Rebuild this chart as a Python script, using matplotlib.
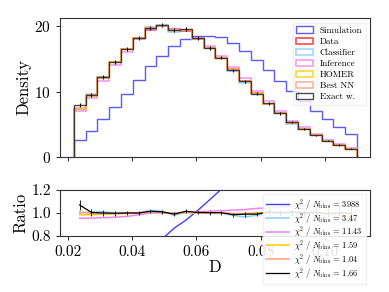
import numpy as np
import matplotlib
matplotlib.use("Agg")
import matplotlib.pyplot as plt

plt.rcParams['font.family'] = 'serif'
plt.rcParams['font.serif'] = ['cmr10']
plt.rcParams['mathtext.fontset'] = 'cm'
plt.rcParams['axes.unicode_minus'] = False
plt.rcParams['axes.formatter.use_mathtext'] = True

# -------------------------------------------------------------------------
# Histogram data (24 bins in D)
# -------------------------------------------------------------------------
d_lo, d_hi, n_bins = 0.0218, 0.1100, 24

data = [7.4, 9.5, 12.2, 14.6, 16.6, 18.3, 19.5, 20.0, 19.6, 19.3, 18.1, 16.7,
        15.2, 13.5, 11.7, 9.8, 8.15, 6.7, 5.25, 4.3, 3.3, 2.5, 1.85, 1.3]
simulation = [2.6, 4.05, 5.8, 7.7, 9.7, 11.85, 13.9, 15.5, 17.0, 18.1, 18.5, 18.6,
              18.35, 17.5, 16.3, 14.8, 13.3, 11.7, 10.15, 8.6, 7.1, 5.8, 4.6, 3.5]

# reweighted / data ratios
ratio_classifier = [1.0, 1.01, 1.01, 1.0, 1.0, 1.0, 1.025, 1.015, 0.98, 1.005, 1.0, 1.0,
                    1.0, 0.98, 0.965, 0.98, 1.005, 1.01, 0.975, 1.0, 1.01, 0.995, 0.985, 0.97]
ratio_inference = [0.955, 0.955, 0.96, 0.963, 0.97, 0.985, 1.0, 1.0, 1.0, 1.005, 1.01, 1.015,
                   1.02, 1.025, 1.03, 1.04, 1.045, 1.05, 1.06, 1.07, 1.06, 1.065, 1.06, 1.07]
ratio_homer = [0.985, 0.985, 0.99, 0.993, 0.995, 1.0, 1.01, 1.005, 0.995, 1.005, 1.0, 1.0,
               1.0, 0.995, 0.995, 1.0, 1.005, 1.0, 1.0, 1.005, 1.0, 0.99, 0.99, 0.985]
ratio_bestnn = [1.01, 0.995, 0.995, 0.995, 1.0, 1.0, 1.01, 1.005, 0.995, 1.005, 1.0, 1.0,
                1.0, 0.995, 0.995, 0.995, 1.005, 1.0, 0.995, 1.0, 1.0, 0.99, 0.985, 0.96]
ratio_exact = [1.07, 1.005, 1.0, 0.998, 1.0, 1.0, 1.015, 1.01, 0.99, 1.015, 1.005, 1.003,
               1.003, 0.985, 0.99, 0.99, 1.01, 1.0, 1.01, 1.0, 1.005, 0.995, 1.0, 1.0]
exact_err = [0.3, 0.3, 0.3, 0.3, 0.3, 0.3, 0.3, 0.3, 0.3, 0.3, 0.3, 0.3,
             0.25, 0.25, 0.25, 0.2, 0.2, 0.2, 0.15, 0.15, 0.12, 0.1, 0.1, 0.08]

chi2_labels = ['3988', '3.47', '11.43', '1.59', '1.04', '1.66']

edges = np.linspace(d_lo, d_hi, n_bins + 1)
centers = 0.5 * (edges[1:] + edges[:-1])
data = np.array(data)

models = [
    ('Classifier', np.array(ratio_classifier), '#87cefa'),
    ('Inference', np.array(ratio_inference), 'violet'),
    ('HOMER', np.array(ratio_homer), '#ffcc00'),
    ('Best NN', np.array(ratio_bestnn), '#ffa07a'),
]
exact = data * np.array(ratio_exact)

fig = plt.figure(figsize=(3.89, 2.92), dpi=100)
ax = fig.add_axes([0.154, 0.4623, 0.797, 0.476])
axr = fig.add_axes([0.154, 0.1918, 0.797, 0.1575])

# -------------------------------------------------------------------------
# Top panel: densities
# -------------------------------------------------------------------------
ax.hist(centers, bins=edges, weights=simulation, histtype='step', color='blue',
        alpha=0.65, lw=1.0, label='Simulation')
ax.hist(centers, bins=edges, weights=data, histtype='step', color='red',
        alpha=0.7, lw=1.2, label='Data')
for name, r, c in models:
    ax.hist(centers, bins=edges, weights=data * r, histtype='step', color=c,
            alpha=0.8, lw=1.2, label=name)
ax.hist(centers, bins=edges, weights=exact, histtype='step', color='black',
        alpha=0.7, lw=1.0, label='Exact w.')
ax.errorbar(centers, exact, yerr=exact_err, fmt='none', ecolor='black', lw=0.8)

ax.set_xlim(0.0175, 0.114)
ax.set_ylim(0, 21.3)
ax.set_yticks([0, 10, 20])
ax.set_xticks([0.02, 0.04, 0.06, 0.08, 0.10])
ax.set_xticklabels([])
ax.set_ylabel('Density', fontsize=12, labelpad=2)
ax.tick_params(labelsize=11, length=3, width=0.6)
ax.legend(loc='upper right', bbox_to_anchor=(0.987, 0.966), borderaxespad=0,
          fontsize=6.5, labelspacing=0.3, handlelength=1.9, handletextpad=0.7,
          framealpha=0.8, edgecolor='#eeeeee', fancybox=False)

# -------------------------------------------------------------------------
# Bottom panel: ratio to data
# -------------------------------------------------------------------------
lab = r'$\chi^2\ /\ N_{\rm bins}$ = '
axr.plot(centers, np.array(simulation) / data, color='blue', alpha=0.75, lw=1.0,
         label=lab + chi2_labels[0])
for (name, r, c), chi in zip(models, chi2_labels[1:5]):
    axr.plot(centers, r, color=c, lw=1.1, label=lab + chi)
axr.plot(centers, ratio_exact, color='black', lw=0.9, label=lab + chi2_labels[5])
axr.errorbar(centers, ratio_exact, yerr=np.array(exact_err) / data, fmt='none',
             ecolor='black', elinewidth=0.6)

axr.set_xlim(0.0175, 0.114)
axr.set_ylim(0.8, 1.2)
axr.set_yticks([0.8, 1.0, 1.2])
axr.set_yticklabels(['0.8', '1.0', '1.2'])
axr.set_xticks([0.02, 0.04, 0.06, 0.08, 0.10])
axr.set_xticklabels(['0.02', '0.04', '0.06', '0.08', '0.10'])
axr.set_xlabel('D', fontsize=12, labelpad=1)
axr.set_ylabel('Ratio', fontsize=12, labelpad=2)
axr.tick_params(labelsize=11, length=3, width=0.6)
axr.legend(loc='upper right', bbox_to_anchor=(0.987, 0.913), borderaxespad=0,
           fontsize=6, labelspacing=-0.15, handlelength=2.8, handletextpad=0.6,
           borderpad=0.35, framealpha=0.88, edgecolor='#eeeeee', fancybox=False)

for a in (ax, axr):
    for s in a.spines.values():
        s.set_linewidth(0.8)
        s.set_color('#333333')

fig.savefig('out.png', dpi=100)
